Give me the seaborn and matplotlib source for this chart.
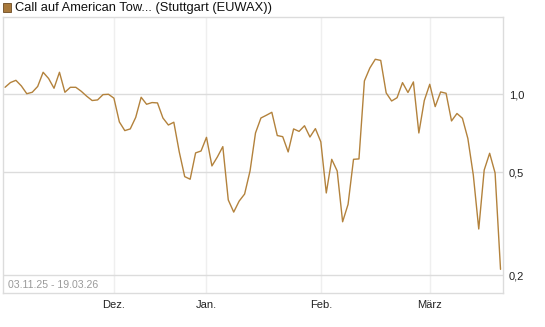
import matplotlib
matplotlib.use("Agg")
import matplotlib.pyplot as plt
import matplotlib.patches as mpatches
import pandas as pd
import seaborn as sns

# Kursverlauf (Handelstage ab 03.11.25)
tag = list(range(92))
kurs = [1.064, 1.110, 1.132, 1.077, 1.005, 1.018, 1.072, 1.216, 1.151, 1.055,
        1.216, 1.018, 1.064, 1.064, 1.027, 0.983, 0.946, 0.951, 0.997, 1.000,
        0.966, 0.782, 0.724, 0.735, 0.814, 0.974, 0.915, 0.929, 0.926, 0.810,
        0.761, 0.780, 0.599, 0.481, 0.470, 0.594, 0.604, 0.682, 0.529, 0.573,
        0.628, 0.391, 0.351, 0.387, 0.412, 0.506, 0.709, 0.810, 0.830, 0.852,
        0.693, 0.686, 0.599, 0.735, 0.719, 0.756, 0.684, 0.737, 0.655, 0.416,
        0.561, 0.506, 0.322, 0.376, 0.561, 0.563, 1.126, 1.263, 1.365, 1.351,
        1.012, 0.942, 0.970, 1.109, 1.016, 1.116, 0.709, 0.946, 1.093, 0.896,
        1.021, 1.009, 0.789, 0.843, 0.808, 0.675, 0.488, 0.302, 0.510, 0.592,
        0.497, 0.211]

monat_pos = [20, 37, 58, 78]
monat_label = ["Dez.", "Jan.", "Feb.", "März"]
y_ticks = [0.2, 0.5, 1.0]
y_labels = ["0,2", "0,5", "1,0"]

titel = "Call auf American Tow... (Stuttgart (EUWAX))"
zeitraum = "03.11.25 - 19.03.26"
farbe = "#b3823c"

df = pd.DataFrame({"tag": tag, "kurs": kurs})

sns.set_style("white")
plt.rcParams["font.family"] = ["Liberation Sans", "DejaVu Sans"]

fig = plt.figure(figsize=(5.45, 3.27), dpi=100)
ax = fig.add_axes([0.0064, 0.104, 0.917, 0.845])

sns.lineplot(data=df, x="tag", y="kurs", color=farbe, linewidth=1.0, ax=ax)

ax.set_yscale("log")
ax.set_ylim(0.171, 1.993)
ax.set_xlim(-0.28, 91.5)

ax.set_yticks(y_ticks)
ax.set_yticklabels(y_labels)
ax.yaxis.tick_right()
ax.minorticks_off()
ax.set_xticks(monat_pos)
ax.set_xticklabels(monat_label)
ax.tick_params(axis="both", length=0, labelsize=8, colors="#222222", pad=4)
ax.tick_params(axis="x", pad=5)
ax.set_xlabel("")
ax.set_ylabel("")

ax.grid(True, axis="y", color="#dcdcdc", linewidth=1.0)
ax.grid(True, axis="x", color="#efefef", linewidth=1.0)
ax.set_axisbelow(True)
for s in ax.spines.values():
    s.set_color("#dcdcdc")
    s.set_linewidth(1.0)

ax.text(0.009, 0.01, zeitraum, transform=ax.transAxes, fontsize=7.6,
        color="#9a9a9a", ha="left", va="bottom")

fig.patches.append(mpatches.Rectangle((3 / 545, 1 - 11.5 / 327), 8 / 545, 8 / 327,
                                      transform=fig.transFigure, facecolor="#a8793c",
                                      edgecolor="#6b4a22", linewidth=0.6))
fig.text(15 / 545, 1 - 7.5 / 327, titel, fontsize=9.3, color="#111111",
         ha="left", va="center")

fig.savefig("out.png", dpi=100)
